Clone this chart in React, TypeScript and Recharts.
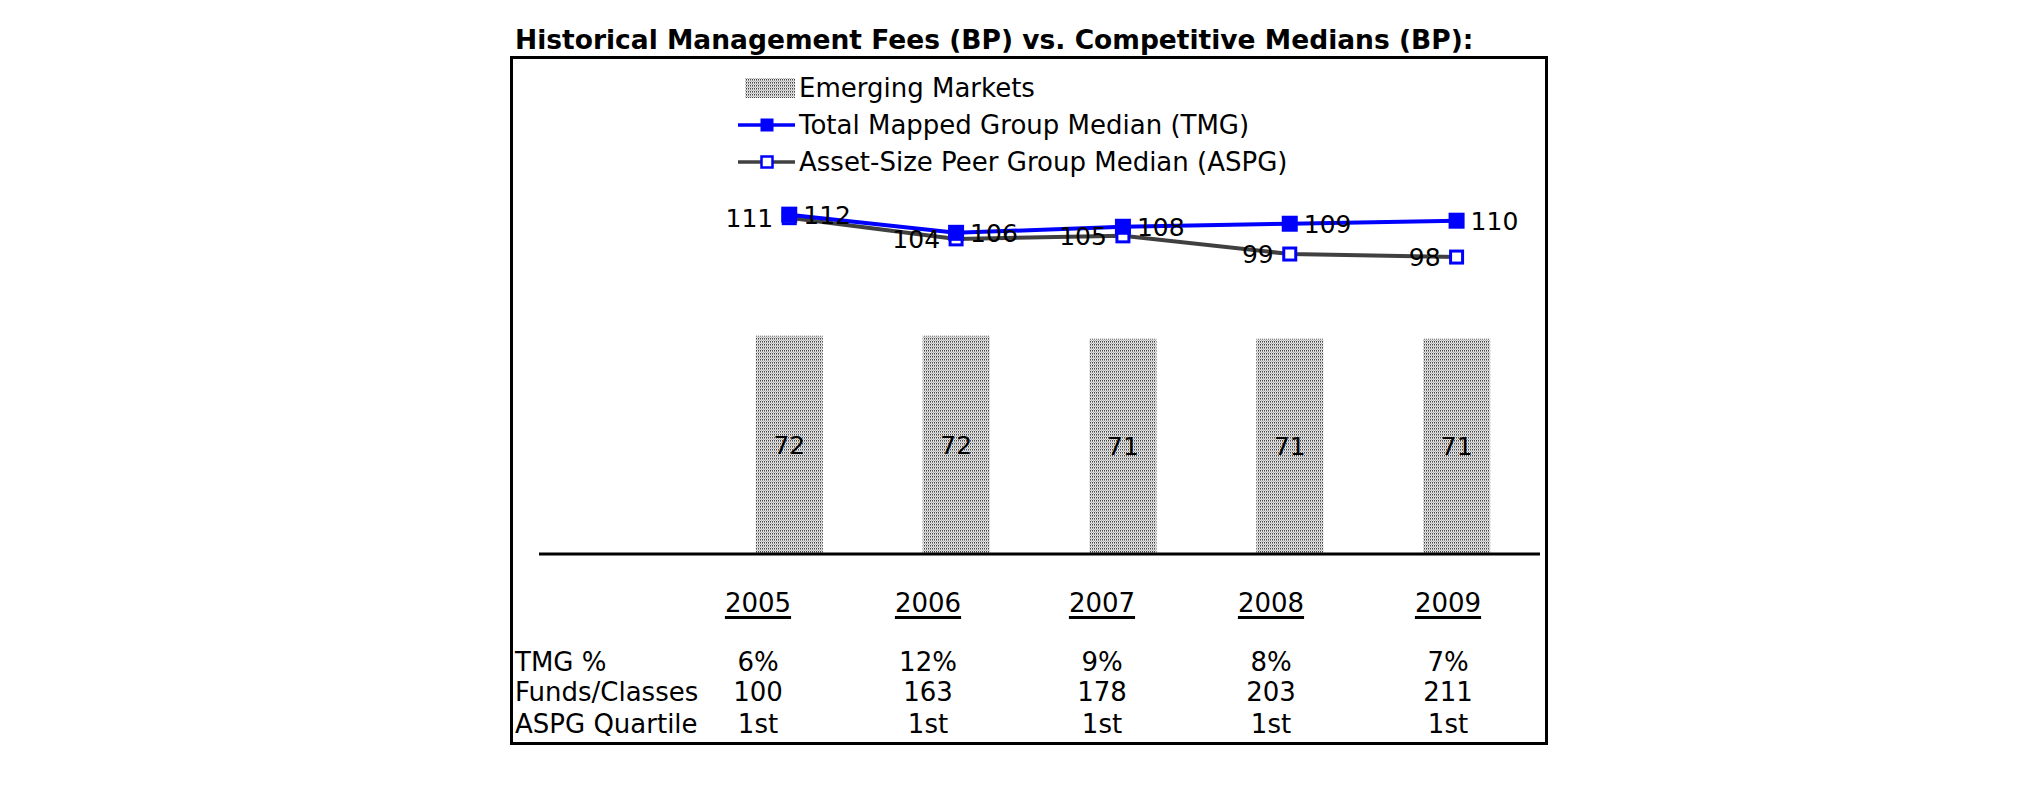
import { ComposedChart, Bar, Line, XAxis, YAxis, LabelList, ReferenceLine } from "recharts";

// first category is left blank on purpose: the row-label column of the table sits under it
const CATEGORIES = ["", "2005", "2006", "2007", "2008", "2009"];
const EMERGING = [null, 72, 72, 71, 71, 71];
const TMG = [null, 112, 106, 108, 109, 110];
const ASPG = [null, 111, 104, 105, 99, 98];

const YEARS = ["2005", "2006", "2007", "2008", "2009"];
const TMG_PCT = ["6%", "12%", "9%", "8%", "7%"];
const FUNDS = ["100", "163", "178", "203", "211"];
const QUARTILE = ["1st", "1st", "1st", "1st", "1st"];

const FONT = "Verdana, 'DejaVu Sans', sans-serif";
const BLUE = "#0000ff";
const GREY = "#404040";

const data = CATEGORIES.map((c, i) => ({
  year: c,
  em: EMERGING[i],
  tmg: TMG[i],
  aspg: ASPG[i],
}));

// column centres of the little table under the chart
const COL_X = [758, 928, 1102, 1271, 1448];

function DotsPattern({ id }: { id: string }) {
  return (
    <pattern id={id} width={2} height={3} patternUnits="userSpaceOnUse">
      <rect width={2} height={3} fill="#e6e6e6" />
      <rect x={0} y={0} width={1} height={1} fill="#454545" />
      <rect x={0} y={1} width={1} height={1} fill="#8a8a8a" />
      <rect x={1} y={2} width={1} height={1} fill="#b5b5b5" />
    </pattern>
  );
}

function FilledSquare(props: any) {
  const { cx, cy, index } = props;
  if (cx == null || cy == null) return <g key={`f-${index}`} />;
  return <rect key={`f-${index}`} x={cx - 8} y={cy - 8} width={16} height={16} fill={BLUE} />;
}

function HollowSquare(props: any) {
  const { cx, cy, index } = props;
  if (cx == null || cy == null) return <g key={`h-${index}`} />;
  return (
    <rect key={`h-${index}`} x={cx - 6} y={cy - 6} width={12} height={12} fill="#fff" stroke={BLUE} strokeWidth={3} />
  );
}

function Txt({ x, y, size = 26, bold, align = "left", children, underline }: any) {
  const style: React.CSSProperties = {
    position: "absolute",
    top: y - size / 2,
    fontFamily: FONT,
    fontSize: size,
    lineHeight: 1,
    fontWeight: bold ? "bold" : "normal",
    whiteSpace: "nowrap",
    color: "#000",
    textDecoration: underline ? "underline" : "none",
    textDecorationThickness: underline ? 3 : undefined,
    textUnderlineOffset: underline ? 4 : undefined,
  };
  if (align === "center") {
    style.left = x - 100;
    style.width = 200;
    style.textAlign = "center";
  } else {
    style.left = x;
  }
  return <div style={style}>{children}</div>;
}

function LegendRow({ y, kind, label }: { y: number; kind: "bar" | "tmg" | "aspg"; label: string }) {
  return (
    <>
      <svg style={{ position: "absolute", left: 736, top: y - 12 }} width={62} height={24}>
        <defs>
          <DotsPattern id="legDots" />
        </defs>
        {kind === "bar" && <rect x={9} y={2} width={50} height={20} fill="url(#legDots)" />}
        {kind === "tmg" && (
          <>
            <line x1={2} x2={59} y1={12} y2={12} stroke={BLUE} strokeWidth={3.5} />
            <rect x={24.5} y={5.5} width={13} height={13} fill={BLUE} />
          </>
        )}
        {kind === "aspg" && (
          <>
            <line x1={2} x2={59} y1={12} y2={12} stroke={GREY} strokeWidth={3.5} />
            <rect x={25.5} y={6.5} width={11} height={11} fill="#fff" stroke={BLUE} strokeWidth={2.5} />
          </>
        )}
      </svg>
      <Txt x={799} y={y}>{label}</Txt>
    </>
  );
}

export default function App() {
  return (
    <div style={{ position: "absolute", left: 0, top: 0, width: 2025, height: 806, background: "#fff" }}>
      <Txt x={515} y={40} size={26.5} bold>
        Historical Management Fees (BP) vs. Competitive Medians (BP):
      </Txt>

      <div
        style={{
          position: "absolute",
          left: 510,
          top: 56,
          width: 1038,
          height: 689,
          border: "3px solid #000",
          boxSizing: "border-box",
        }}
      />

      <div style={{ position: "absolute", left: 510, top: 56 }}>
        <ComposedChart
          width={1038}
          height={689}
          data={data}
          margin={{ top: 43.5, right: 8, bottom: 191, left: 29 }}
        >
          <defs>
            <DotsPattern id="emDots" />
          </defs>
          <XAxis dataKey="year" hide />
          <YAxis hide domain={[0, 150]} />
          <Bar dataKey="em" barSize={67} fill="url(#emDots)" isAnimationActive={false}>
            <LabelList dataKey="em" position="center" fill="#000" fontSize={25} fontFamily={FONT} />
          </Bar>
          <Line
            dataKey="aspg"
            type="linear"
            stroke={GREY}
            strokeWidth={4}
            dot={HollowSquare}
            activeDot={false}
            isAnimationActive={false}
          >
            <LabelList dataKey="aspg" position="left" offset={16} fill="#000" fontSize={25} fontFamily={FONT} />
          </Line>
          <Line
            dataKey="tmg"
            type="linear"
            stroke={BLUE}
            strokeWidth={4}
            dot={FilledSquare}
            activeDot={false}
            isAnimationActive={false}
          >
            <LabelList dataKey="tmg" position="right" offset={14} fill="#000" fontSize={25} fontFamily={FONT} />
          </Line>
          <ReferenceLine y={0} stroke="#000" strokeWidth={3} />
        </ComposedChart>
      </div>

      <LegendRow y={88} kind="bar" label="Emerging Markets" />
      <LegendRow y={125} kind="tmg" label="Total Mapped Group Median (TMG)" />
      <LegendRow y={162} kind="aspg" label="Asset-Size Peer Group Median (ASPG)" />

      {YEARS.map((yr, i) => (
        <Txt key={yr} x={COL_X[i]} y={603} align="center" underline>
          {yr}
        </Txt>
      ))}

      <Txt x={515} y={662}>TMG %</Txt>
      <Txt x={515} y={692}>Funds/Classes</Txt>
      <Txt x={515} y={724}>ASPG Quartile</Txt>
      {TMG_PCT.map((v, i) => (
        <Txt key={`p${i}`} x={COL_X[i]} y={662} align="center">{v}</Txt>
      ))}
      {FUNDS.map((v, i) => (
        <Txt key={`f${i}`} x={COL_X[i]} y={692} align="center">{v}</Txt>
      ))}
      {QUARTILE.map((v, i) => (
        <Txt key={`q${i}`} x={COL_X[i]} y={724} align="center">{v}</Txt>
      ))}
    </div>
  );
}
